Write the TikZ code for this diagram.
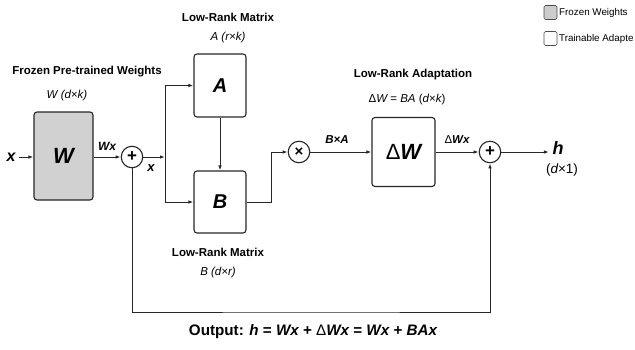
\documentclass[tikz,border=0pt]{standalone}
\usepackage{fontspec}
\setmainfont{Liberation Sans}
\usetikzlibrary{arrows.meta}
\begin{document}
\begin{tikzpicture}[x=1pt,y=-1pt,
  box/.style={draw=black!85,line width=1.1pt,rounded corners=3pt,inner sep=0pt},
  frozen/.style={box,fill=black!18},
  op/.style={draw=black!85,circle,line width=1.1pt,fill=white,inner sep=0pt,minimum size=21.5pt,font=\bfseries\fontsize{17}{17}\selectfont},
  arr/.style={line width=1pt,draw=black!85,-{Latex[length=5pt,width=3.5pt]}},
  title/.style={font=\bfseries\fontsize{11.5}{13}\selectfont},
  dim/.style={font=\fontsize{11.5}{13}\selectfont},
  lbl/.style={font=\bfseries\itshape\fontsize{11.5}{13}\selectfont},
  legbox/.style={draw=black!70,rounded corners=1.5pt,minimum width=13pt,minimum height=14pt,inner sep=0pt,line width=0.6pt},
  legtxt/.style={anchor=west,inner sep=0pt,font=\fontsize{9.8}{11}\selectfont},
]
\useasboundingbox (0,0) rectangle (635,349);

% blocks
\node[frozen,minimum width=59pt,minimum height=88pt,font=\bfseries\itshape\fontsize{22}{22}\selectfont] (W) at (63.5,156) {W};
\node[box,minimum width=52pt,minimum height=63pt,font=\bfseries\itshape\fontsize{20}{20}\selectfont] (A) at (220,85.5) {A};
\node[box,minimum width=52pt,minimum height=62pt,font=\bfseries\itshape\fontsize{20}{20}\selectfont] (B) at (220,202) {B};
\node[box,minimum width=63pt,minimum height=69pt,font=\bfseries\itshape\fontsize{22}{22}\selectfont] (dW) at (403.5,152) {{\normalfont\fontsize{22}{22}\selectfont Δ}W};

% operators
\node[op] (p1) at (132,157) {+};
\node[op,font=\bfseries\fontsize{15}{15}\selectfont] (tm) at (299,152) {×};
\node[op] (p2) at (490,152) {+};

% titles and dimensions
\node[title] (tW) at (87,72) {Frozen Pre-trained Weights};
\node[dim] (dWd) at (67,96) {\itshape W (d×k)};
\node[title] (tA) at (228,17) {Low-Rank Matrix};
\node[dim] (dA) at (228,38) {\itshape A (r×k)};
\node[title] (tB) at (218,252) {Low-Rank Matrix};
\node[dim] (dB) at (218,273) {\itshape B (d×r)};
\node[title] (tD) at (413,75) {Low-Rank Adaptation};
\node[dim] (dD) at (407,100) {Δ{\itshape W} = {\itshape BA} ({\itshape d}×{\itshape k})};

% signal labels
\node[lbl,font=\bfseries\itshape\fontsize{16}{16}\selectfont] (xin) at (11,157) {x};
\node[lbl,font=\bfseries\itshape\fontsize{12}{12}\selectfont] (lWx) at (107,146) {Wx};
\node[lbl,font=\bfseries\itshape\fontsize{13}{13}\selectfont] (lx) at (151,168) {x};
\node[lbl] (lBA) at (337,140) {B×A};
\node[lbl] (lDW) at (457,140) {{\normalfont Δ}Wx};
\node[lbl,font=\bfseries\itshape\fontsize{18}{18}\selectfont] (h) at (558,148) {h};
\node[font=\fontsize{13.5}{15}\selectfont] (hd) at (562,170) {({\itshape d}×1)};

% output equation
\node[font=\bfseries\fontsize{15.2}{17}\selectfont] (out) at (313,332) {Output: {\itshape h} = {\itshape Wx} + {\normalfont Δ}{\itshape Wx} = {\itshape Wx} + {\itshape BAx}};

% legend
\node[legbox,fill=black!20] (lg1) at (550.5,12.5) {};
\node[legtxt] (lt1) at (559,13) {Frozen Weights};
\node[legbox,fill=white] (lg2) at (550.5,38.5) {};
\node[legtxt] (lt2) at (559,39) {Trainable Adapte};

% connectors
\coordinate (J) at (165,157);
\coordinate (K) at (271,202);
\coordinate (R) at (311,312);
\draw[arr] (xin.east) -- (xin.east -| W.west);
\draw[arr] (W.east |- p1.west) -- (p1.west);
\draw[arr] (p1.east) -- (J);
\draw[arr] (J) |- (A.west);
\draw[arr] (J) |- (B.west);
\draw[arr] (A.south) -- (B.north);
\draw[arr] (B.east) -- (K) |- (tm.west);
\draw[arr] (tm.east) -- (dW.west);
\draw[arr] (dW.east) -- (p2.west);
\draw[arr] (p2.east) -- (p2.east -| h.west);
\draw[arr] (p1.south) |- (R) -| (p2.south);
\end{tikzpicture}
\end{document}
